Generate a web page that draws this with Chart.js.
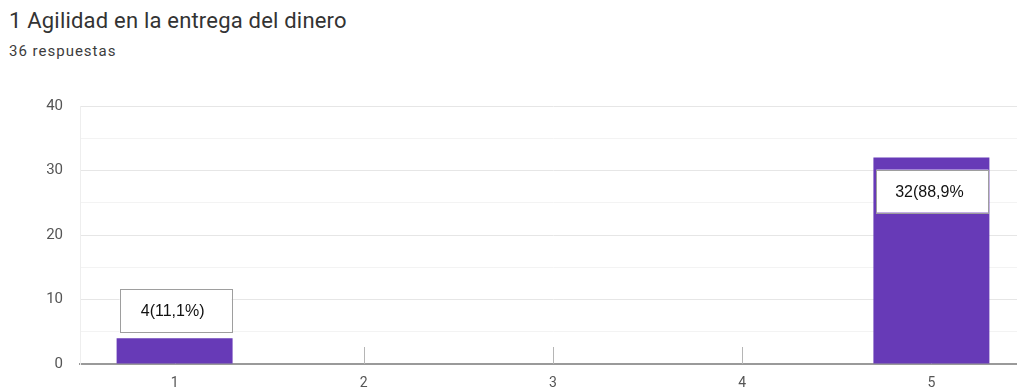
<!DOCTYPE html>
<html lang="es">
<head>
<meta charset="utf-8">
<title>1 Agilidad en la entrega del dinero</title>
<script src="https://cdn.jsdelivr.net/npm/chart.js@4/dist/chart.umd.min.js"></script>
<style>
  html, body { margin: 0; padding: 0; background: #fff; overflow: hidden; }
  body { width: 1017px; height: 392px; position: relative; font-family: Roboto, "Noto Sans", sans-serif; }
  #title { position: absolute; left: 9px; top: 8px; font-size: 22px; letter-spacing: 0.2px; color: #333; white-space: nowrap; line-height: 1.17; }
  #subtitle { position: absolute; left: 9px; top: 43px; font-size: 15px; letter-spacing: 1px; color: #3c3c3c; white-space: nowrap; line-height: 1.17; }
  #wrap { position: absolute; left: 0; top: 80px; width: 1026px; height: 312px; }
</style>
</head>
<body>
<div id="title">1 Agilidad en la entrega del dinero</div>
<div id="subtitle">36 respuestas</div>
<div id="wrap"><canvas id="chart"></canvas></div>
<script>
// Rating scale and number of answers for each rating
const categories = ['1', '2', '3', '4', '5'];
const responses = [4, 0, 0, 0, 32];
// Text shown in the callout box of each bar
const valueLabels = ['4(11,1%)', '', '', '', '32(88,9%'];
// Y axis range and steps
const yMax = 40;
const gridStep = 5;
const labelStep = 10;

// Short upward tick marks at every category on the baseline
const baselineTicks = {
  id: 'baselineTicks',
  beforeDatasetsDraw(chart) {
    const { ctx, scales: { x, y } } = chart;
    const base = y.getPixelForValue(0);
    ctx.save();
    ctx.strokeStyle = '#b5b5b5';
    ctx.lineWidth = 1;
    categories.forEach((c, i) => {
      const px = Math.round(x.getPixelForValue(i)) + 0.5;
      ctx.beginPath();
      ctx.moveTo(px, base);
      ctx.lineTo(px, base - 17);
      ctx.stroke();
    });
    ctx.restore();
  }
};

// Boxed value labels: inside the bar if it is tall enough, otherwise above it
const valueBoxes = {
  id: 'valueBoxes',
  afterDatasetsDraw(chart) {
    const { ctx } = chart;
    const meta = chart.getDatasetMeta(0);
    ctx.save();
    ctx.font = '16px "Liberation Sans", Arial, sans-serif';
    ctx.textAlign = 'center';
    ctx.textBaseline = 'middle';
    meta.data.forEach((bar, i) => {
      const text = valueLabels[i];
      if (!text) return;
      const w = bar.width - 4;
      const h = 43;
      const barH = bar.base - bar.y;
      const top = barH > h + 20 ? bar.y + 12 : bar.y - 6 - h;
      const left = bar.x - w / 2 + 1;
      ctx.fillStyle = '#ffffff';
      ctx.fillRect(left, top, w, h);
      ctx.strokeStyle = '#9e9e9e';
      ctx.lineWidth = 1;
      ctx.strokeRect(Math.round(left) + 0.5, Math.round(top) + 0.5, Math.round(w), Math.round(h));
      ctx.fillStyle = '#111';
      ctx.fillText(text, bar.x - 2, top + h / 2 + 1);
    });
    ctx.restore();
  }
};

new Chart(document.getElementById('chart'), {
  type: 'bar',
  data: {
    labels: categories,
    datasets: [{
      data: responses,
      backgroundColor: '#673ab7',
      borderWidth: 0,
      barPercentage: 0.613,
      categoryPercentage: 1
    }]
  },
  options: {
    responsive: true,
    maintainAspectRatio: false,
    animation: false,
    layout: { padding: { top: 6, right: 0, bottom: 0, left: 0 } },
    plugins: {
      legend: { display: false },
      tooltip: { enabled: false }
    },
    scales: {
      x: {
        offset: true,
        grid: { display: false, drawTicks: false },
        border: { display: true, color: '#9a9a9a', width: 2 },
        ticks: { color: '#555', font: { family: 'Roboto', size: 14 }, padding: 11 },
        afterFit(scale) { scale.height = 28; }
      },
      y: {
        min: 0,
        max: yMax,
        grid: {
          drawTicks: false,
          color(ctx) {
            if (!ctx.tick) return '#eeeeee';
            return ctx.tick.value % labelStep === 0 ? '#e6e6e6' : '#f3f3f3';
          }
        },
        border: { display: true, color: '#eeeeee', width: 1 },
        ticks: {
          stepSize: gridStep,
          color: '#555',
          font: { family: 'Roboto', size: 15 },
          padding: 17,
          callback(v) { return v % labelStep === 0 ? String(v) : ''; }
        },
        afterFit(scale) { scale.width = 80; }
      }
    }
  },
  plugins: [baselineTicks, valueBoxes]
});
</script>
</body>
</html>
